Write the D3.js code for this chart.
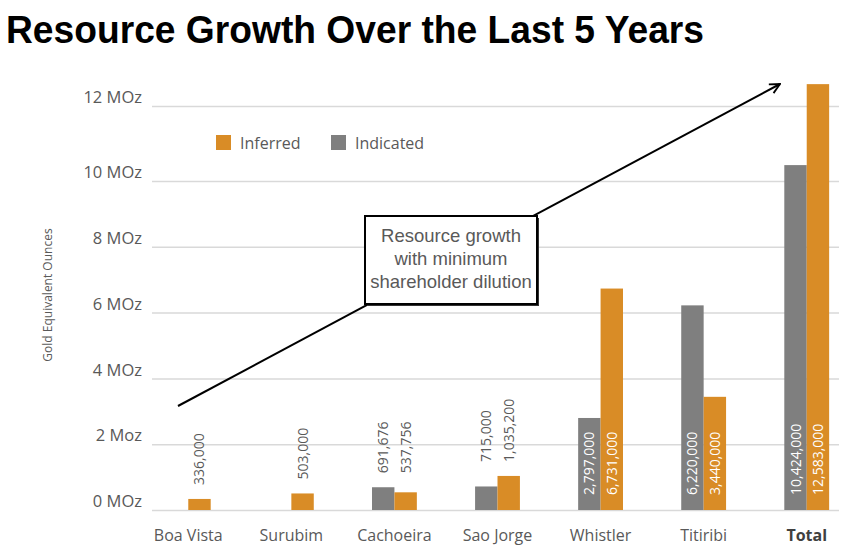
<!DOCTYPE html>
<html><head><meta charset="utf-8">
<script src="https://cdn.jsdelivr.net/npm/d3@7"></script>
<style>body{margin:0;background:#fff}svg{display:block}</style>
</head><body>
<svg id="c" width="862" height="552"></svg>
<script>
const categories = ["Boa Vista","Surubim","Cachoeira","Sao Jorge","Whistler","Titiribi","Total"];
const indicated = [null,null,691676,715000,2797000,6220000,10424000];
const inferred = [336000,503000,537756,1035200,6731000,3440000,12583000];
const seriesNames = ["Indicated","Inferred"];
const tickValues = [0,2e6,4e6,6e6,8e6,10e6,12e6];
const tickLabels = ["0 MOz","2 Moz","4 MOz","6 MOz","8 MOz","10 MOz","12 MOz"];
const annotationLines = ["Resource growth","with minimum","shareholder dilution"];

const colors = {Indicated:"#7f7f7f", Inferred:"#d98c26"};
const txt = "#595959";
const svg = d3.select("#c");
const font = "'Open Sans', sans-serif";
const arial = "'Liberation Sans', Arial, sans-serif";

svg.append("text").attr("x",6).attr("y",43)
  .attr("font-family",arial).attr("font-weight","bold")
  .attr("font-size",38).attr("textLength",698).attr("lengthAdjust","spacingAndGlyphs")
  .attr("fill","#000").text("Resource Growth Over the Last 5 Years");

const y = d3.scaleLinear().domain([0,10e6,12e6]).range([510,181,106]);
const x = d3.scaleBand().domain(categories).range([137,858]).paddingInner(0.565).paddingOuter(0.28);
const gridL = 152, gridR = 839;

// grid + tick labels
const ax = svg.append("g").attr("transform",`translate(${gridL},0)`)
  .call(d3.axisLeft(y).tickValues(tickValues).tickSize(-(gridR-gridL)).tickPadding(10)
    .tickFormat((d,i)=>tickLabels[i]));
ax.select(".domain").remove();
ax.selectAll(".tick line").attr("stroke","#d9d9d9").attr("stroke-width",1.5);
ax.selectAll(".tick text").attr("font-family",font).attr("font-size",16.5).attr("fill",txt)
  .attr("dy","-0.2em");

svg.append("text").attr("transform","translate(52,295) rotate(-90)").attr("text-anchor","middle")
  .attr("font-family",font).attr("font-size",12).attr("fill",txt).text("Gold Equivalent Ounces");

// bars
const x1 = d3.scaleBand().domain(seriesNames).range([0,x.bandwidth()]);
const data = categories.map((c,i)=>({cat:c, vals:[{s:"Indicated",v:indicated[i]},{s:"Inferred",v:inferred[i]}]}));
const g = svg.selectAll(".grp").data(data).join("g").attr("transform",d=>`translate(${x(d.cat)},0)`);
g.selectAll("rect").data(d=>d.vals.filter(e=>e.v!=null)).join("rect")
  .attr("x",e=>x1(e.s)).attr("width",x1.bandwidth())
  .attr("y",e=>y(e.v)).attr("height",e=>y(0)-y(e.v)).attr("fill",e=>colors[e.s]);

// value labels
g.each(function(d){
  const vs = d.vals.filter(e=>e.v!=null);
  const mx = d3.max(vs,e=>e.v);
  const inside = mx > 2e6;
  const sel = d3.select(this);
  vs.forEach(e=>{
    const cx = x1(e.s)+x1.bandwidth()/2;
    const yy = inside ? y(0)-15 : y(mx)-14;
    sel.append("text").attr("transform",`translate(${cx+5},${yy}) rotate(-90)`)
      .attr("font-family",font).attr("font-size",14)
      .attr("fill", inside ? "#fff" : txt).text(d3.format(",")(e.v));
  });
});

// x labels
svg.selectAll(".xl").data(categories).join("text")
  .attr("x",d=>x(d)+x.bandwidth()/2).attr("y",541).attr("text-anchor","middle")
  .attr("font-family",font).attr("font-size",16).attr("fill",d=>d==="Total"?"#404040":txt)
  .attr("font-weight",d=>d==="Total"?"bold":"normal").text(d=>d);

// legend
const leg = svg.append("g");
[["Inferred",216,240],["Indicated",331,355]].forEach(([n,sx,tx])=>{
  leg.append("rect").attr("x",sx).attr("y",135).attr("width",15).attr("height",15).attr("fill",colors[n]);
  leg.append("text").attr("x",tx).attr("y",148.5).attr("font-family",font).attr("font-size",16)
    .attr("fill",txt).text(n);
});

// arrow
svg.append("defs").append("marker").attr("id","ah").attr("viewBox","0 0 12 12").attr("refX",11).attr("refY",6)
  .attr("markerWidth",12).attr("markerHeight",12).attr("markerUnits","userSpaceOnUse").attr("orient","auto")
  .append("path").attr("d","M1,1 L11,6 L1,11").attr("fill","none").attr("stroke","#000").attr("stroke-width",1.8);
svg.append("line").attr("x1",178).attr("y1",406).attr("x2",780).attr("y2",84)
  .attr("stroke","#000").attr("stroke-width",2).attr("marker-end","url(#ah)");

// annotation box
svg.append("rect").attr("x",367).attr("y",218).attr("width",172).attr("height",88).attr("fill","#333");
svg.append("rect").attr("x",365).attr("y",216).attr("width",172).attr("height",88).attr("fill","#fff")
  .attr("stroke","#000").attr("stroke-width",2);
svg.append("text").attr("x",451).attr("y",241.5).attr("text-anchor","middle")
  .attr("font-family",arial).attr("font-size",18.5).attr("fill",txt)
  .selectAll("tspan").data(annotationLines).join("tspan").attr("x",451).attr("dy",(d,i)=>i?23:0).text(d=>d);
</script>
</body></html>
